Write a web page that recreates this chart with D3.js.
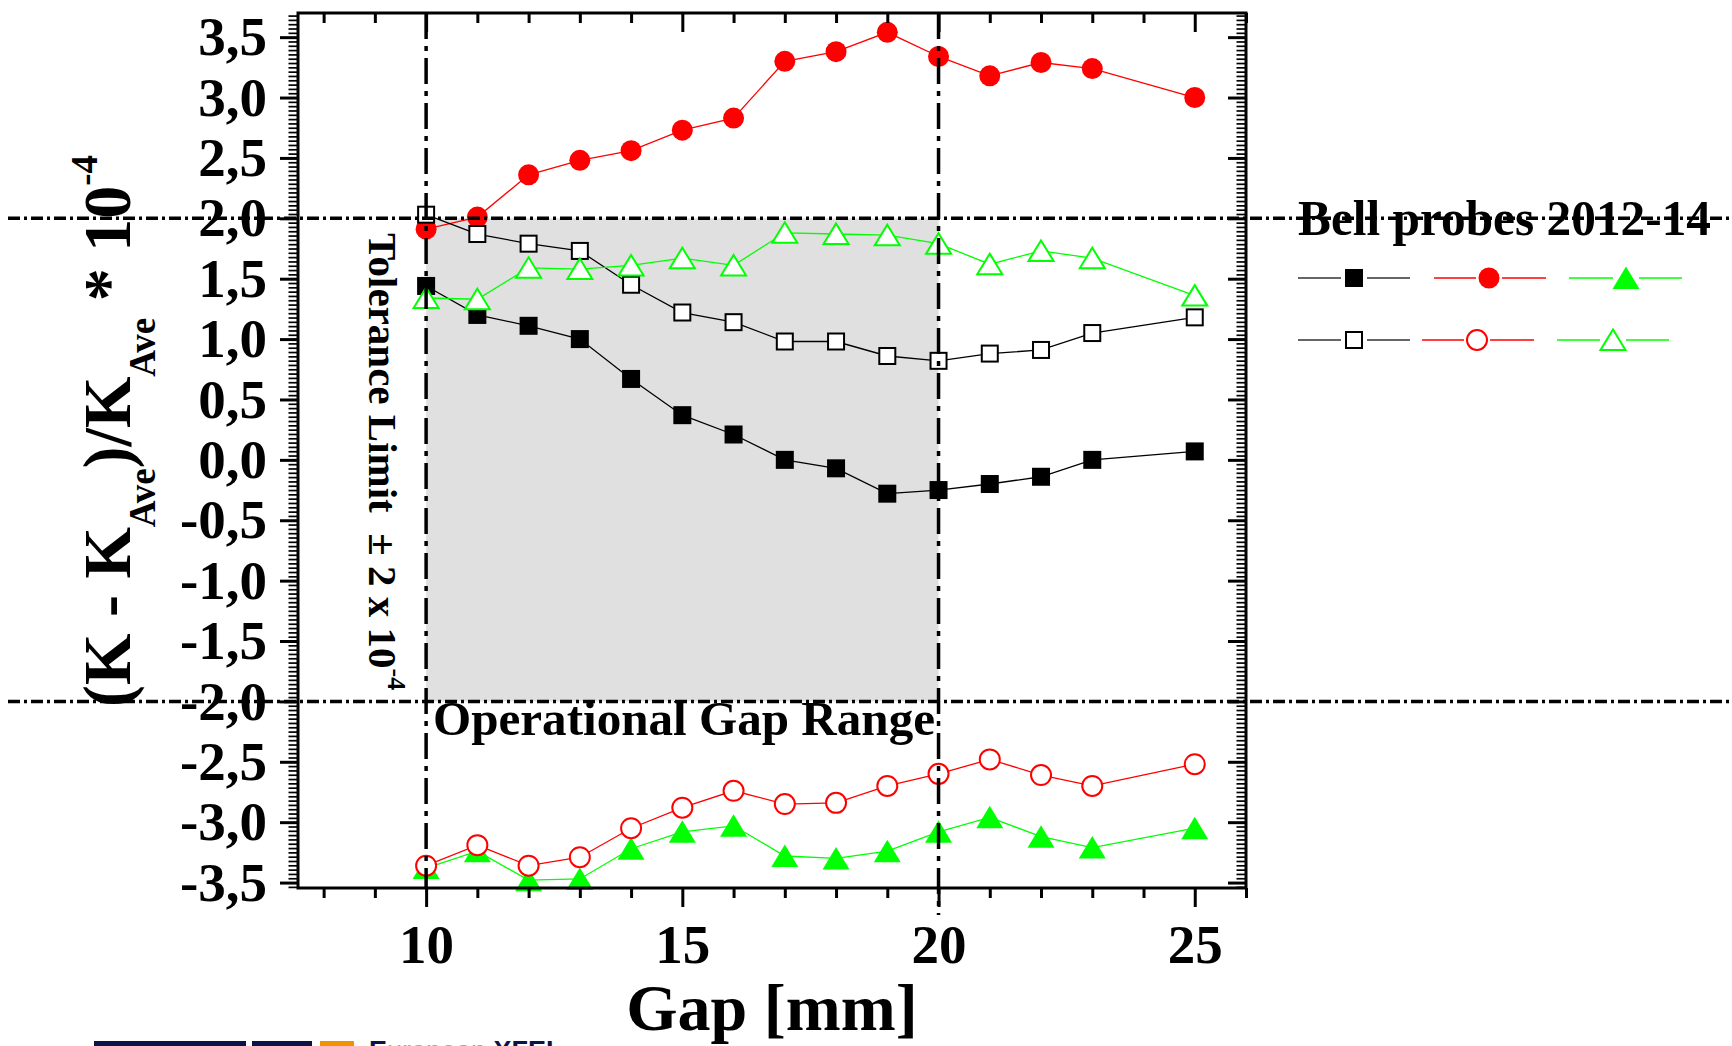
<!DOCTYPE html>
<html><head><meta charset="utf-8">
<script src="https://cdn.jsdelivr.net/npm/d3@7"></script>
<style>
body{margin:0;background:#fff}
svg{display:block}
text{font-family:"Liberation Serif","Times New Roman",serif;font-weight:bold;white-space:pre}
</style>
</head><body>
<svg id="c" width="1732" height="1046"></svg>
<script>
// ---- data ----
const gap = [10,11,12,13,14,15,16,17,18,19,20,21,22,23,25];
const blackFilled = [1.44,1.20,1.11,1.00,0.67,0.37,0.21,0.00,-0.07,-0.28,-0.25,-0.20,-0.14,0.00,0.07];
const redFilled   = [1.91,2.01,2.36,2.48,2.56,2.73,2.83,3.30,3.38,3.54,3.34,3.18,3.29,3.24,3.00];
const greenFilled = [-3.38,-3.24,-3.48,-3.47,-3.22,-3.08,-3.03,-3.28,-3.30,-3.24,-3.08,-2.96,-3.12,-3.21,-3.05];
const blackOpen   = [2.03,1.87,1.79,1.73,1.45,1.22,1.14,0.98,0.98,0.86,0.82,0.88,0.91,1.05,1.18];
const redOpen     = [-3.36,-3.19,-3.36,-3.29,-3.05,-2.88,-2.74,-2.85,-2.84,-2.70,-2.60,-2.48,-2.61,-2.70,-2.52];
const greenOpen   = [1.34,1.33,1.59,1.58,1.61,1.67,1.61,1.88,1.87,1.86,1.79,1.62,1.73,1.67,1.36];

const yTickValues = [-3.5,-3,-2.5,-2,-1.5,-1,-0.5,0,0.5,1,1.5,2,2.5,3,3.5];
const yTickLabels = ["-3,5","-3,0","-2,5","-2,0","-1,5","-1,0","-0,5","0,0","0,5","1,0","1,5","2,0","2,5","3,0","3,5"];
const xTickValues = [10,15,20,25];
const xTickLabels = ["10","15","20","25"];
const xMinorValues = [8,9,11,12,13,14,16,17,18,19,21,22,23,24,26];
const toleranceLimits = [-2, 2];
const operationalGap = [10, 20];

const yTitleParts = ["(K - K","Ave",")/K","Ave"," * 10","-4"];
const xTitle = "Gap [mm]";
const legendTitle = "Bell probes 2012-14";

// ---- layout ----
const svg = d3.select("#c");
const L=298, R=1246, T=13, B=888;
const x = d3.scaleLinear().domain([7.5,26]).range([L,R]);
const y = d3.scaleLinear().domain([-3.545,3.70]).range([B,T]);

// shaded operational range
svg.append("rect")
  .attr("x", x(operationalGap[0])).attr("y", y(toleranceLimits[1]))
  .attr("width", x(operationalGap[1]) - x(operationalGap[0]))
  .attr("height", y(toleranceLimits[0]) - y(toleranceLimits[1]))
  .attr("fill", "#e0e0e0");

// texts inside plot
svg.append("text").attr("x", 433).attr("y", 735).attr("font-size", 49)
  .attr("textLength", 502).attr("lengthAdjust","spacingAndGlyphs")
  .text("Operational Gap Range");

const tol = svg.append("text").attr("transform","translate(369,233) rotate(90)").attr("font-size",41);
tol.append("tspan").text("Tolerance Limit  \u00b1 2 x 10");
tol.append("tspan").attr("font-size",26).attr("dy",-19).text("-4");

// ---- series ----
const series = [
  {v: blackFilled, color:"#000", shape:"square", filled:true},
  {v: redFilled, color:"#ff0000", shape:"circle", filled:true},
  {v: greenFilled, color:"#00ff00", shape:"triangle", filled:true},
  {v: blackOpen, color:"#000", shape:"square", filled:false},
  {v: redOpen, color:"#ff0000", shape:"circle", filled:false},
  {v: greenOpen, color:"#00ff00", shape:"triangle", filled:false},
];

function drawMarker(g, shape, filled, color) {
  if (shape === "square") {
    if (filled) g.append("rect").attr("x",-9).attr("y",-9).attr("width",18).attr("height",18).attr("fill",color);
    else g.append("rect").attr("x",-8).attr("y",-8).attr("width",16).attr("height",16).attr("fill","#fff").attr("stroke",color).attr("stroke-width",2);
  } else if (shape === "circle") {
    if (filled) g.append("circle").attr("r",10.5).attr("fill",color);
    else g.append("circle").attr("r",10).attr("fill","#fff").attr("stroke",color).attr("stroke-width",2);
  } else {
    if (filled) g.append("path").attr("d","M0,-11.5L13.5,11L-13.5,11Z").attr("fill",color);
    else g.append("path").attr("d","M0,-10.5L12.5,10L-12.5,10Z").attr("fill","#fff").attr("stroke",color).attr("stroke-width",2);
  }
}

const line = d3.line().x(d=>x(d[0])).y(d=>y(d[1]));
series.forEach(s => {
  const pts = gap.map((g,i)=>[g, s.v[i]]);
  svg.append("path").datum(pts).attr("d", line).attr("fill","none")
    .attr("stroke", s.color).attr("stroke-width", 1.3);
  pts.forEach(p => {
    const g = svg.append("g").attr("transform", `translate(${x(p[0])},${y(p[1])})`);
    drawMarker(g, s.shape, s.filled, s.color);
  });
});

// ---- axes ----
const yMinor = [];
yTickValues.concat([4]).forEach((v,i,arr)=>{
  if (i === 0) { for (let k=1;k<14;k++){ const m = v - k*0.5/14; if (m > -3.545) yMinor.push(m);} }
  if (i < arr.length-1) for (let k=1;k<14;k++){ const m = v + k*0.5/14; if (m < 3.70) yMinor.push(m);} 
});

function styleAxis(g, sw) {
  g.select(".domain").remove();
  g.selectAll(".tick line").attr("stroke","#000").attr("stroke-width", sw);
}
const fmtY = d => yTickLabels[yTickValues.indexOf(d)];
const fmtX = d => xTickLabels[xTickValues.indexOf(d)];

// left
svg.append("g").attr("transform",`translate(${L},0)`)
  .call(d3.axisLeft(y).tickValues(yMinor).tickSize(9.5).tickFormat(""))
  .call(g=>styleAxis(g,1.7));
svg.append("g").attr("transform",`translate(${L},0)`)
  .call(d3.axisLeft(y).tickValues(yTickValues).tickSize(18).tickPadding(13).tickFormat(fmtY))
  .call(g=>styleAxis(g,3))
  .call(g=>g.attr("font-size",55).attr("font-family",null).selectAll("text").attr("fill","#000"));
// right
svg.append("g").attr("transform",`translate(${R},0)`)
  .call(d3.axisRight(y).tickValues(yMinor).tickSize(-9.5).tickFormat(""))
  .call(g=>styleAxis(g,1.7));
svg.append("g").attr("transform",`translate(${R},0)`)
  .call(d3.axisRight(y).tickValues(yTickValues).tickSize(-18).tickFormat(""))
  .call(g=>styleAxis(g,3));
// top
svg.append("g").attr("transform",`translate(0,${T})`)
  .call(d3.axisTop(x).tickValues(xMinorValues).tickSize(-10).tickFormat(""))
  .call(g=>styleAxis(g,3));
svg.append("g").attr("transform",`translate(0,${T})`)
  .call(d3.axisTop(x).tickValues(xTickValues).tickSize(-19).tickFormat(""))
  .call(g=>styleAxis(g,3));
// bottom
svg.append("g").attr("transform",`translate(0,${B})`)
  .call(d3.axisBottom(x).tickValues(xMinorValues).tickSize(10).tickFormat(""))
  .call(g=>styleAxis(g,3));
svg.append("g").attr("transform",`translate(0,${B})`)
  .call(d3.axisBottom(x).tickValues(xTickValues).tickSize(19).tickPadding(17).tickFormat(fmtX))
  .call(g=>styleAxis(g,3))
  .call(g=>g.attr("font-size",55).attr("font-family",null).selectAll("text").attr("fill","#000"));

// frame
svg.append("rect").attr("x",L).attr("y",T).attr("width",R-L).attr("height",B-T)
  .attr("fill","none").attr("stroke","#000").attr("stroke-width",3);

// axis titles
svg.append("text").attr("x",(L+R)/2).attr("y",1030).attr("text-anchor","middle")
  .attr("font-size",66).text(xTitle);

const yt = svg.append("text").attr("transform","translate(130,431) rotate(-90)")
  .attr("text-anchor","middle").attr("font-size",68)
  .attr("textLength",552).attr("lengthAdjust","spacingAndGlyphs");
yt.append("tspan").text(yTitleParts[0]);
yt.append("tspan").attr("font-size",38).attr("dy",25).text(yTitleParts[1]);
yt.append("tspan").attr("dy",-25).text(yTitleParts[2]);
yt.append("tspan").attr("font-size",38).attr("dy",25).text(yTitleParts[3]);
yt.append("tspan").attr("dy",-25).text(yTitleParts[4]);
yt.append("tspan").attr("font-size",38).attr("dy",-33).text(yTitleParts[5]);

// ---- legend ----
svg.append("text").attr("x",1298).attr("y",235).attr("font-size",50)
  .attr("textLength",413).attr("lengthAdjust","spacingAndGlyphs").text(legendTitle);
const legendItems = [
  {s:series[0], x1:1298, x2:1410, mx:1354, y:278},
  {s:series[1], x1:1434, x2:1546, mx:1489, y:278},
  {s:series[2], x1:1569, x2:1682, mx:1626, y:278},
  {s:series[3], x1:1298, x2:1410, mx:1354, y:340},
  {s:series[4], x1:1422, x2:1534, mx:1477, y:340},
  {s:series[5], x1:1557, x2:1669, mx:1613, y:340},
];
legendItems.forEach(it=>{
  const c = it.s.color === "#000" ? "#333" : it.s.color;
  svg.append("line").attr("x1",it.x1).attr("x2",it.mx-13).attr("y1",it.y).attr("y2",it.y).attr("stroke",c).attr("stroke-width",1.5);
  svg.append("line").attr("x1",it.mx+13).attr("x2",it.x2).attr("y1",it.y).attr("y2",it.y).attr("stroke",c).attr("stroke-width",1.5);
  const g = svg.append("g").attr("transform",`translate(${it.mx},${it.y})`);
  drawMarker(g, it.s.shape, it.s.filled, it.s.color);
});

// ---- dash-dot reference lines (on top) ----
toleranceLimits.forEach(v=>{
  svg.append("line").attr("x1",8).attr("x2",1732).attr("y1",y(v)).attr("y2",y(v))
    .attr("stroke","#000").attr("stroke-width",3.5).attr("stroke-dasharray","12,4,3,4");
});
operationalGap.forEach((v,i)=>{
  svg.append("line").attr("x1",x(v)).attr("x2",x(v)).attr("y1",T).attr("y2",i===1?915:B)
    .attr("stroke","#000").attr("stroke-width",3.5).attr("stroke-dasharray","26,7,5,7");
});

// ---- logo strip at bottom ----
svg.append("rect").attr("x",94).attr("y",1041).attr("width",152).attr("height",6).attr("fill","#0c1445");
svg.append("rect").attr("x",252).attr("y",1041).attr("width",60).attr("height",6).attr("fill","#0c1445");
svg.append("rect").attr("x",320).attr("y",1041).attr("width",34).attr("height",6).attr("fill","#f39200");
const logo = svg.append("text").attr("x",369).attr("y",1060).attr("font-size",27)
  .style("font-family","'Liberation Sans',Arial,sans-serif");
logo.append("tspan").attr("fill","#0c1445").text("E");
logo.append("tspan").attr("fill","#9aa3c0").attr("font-weight","normal").text("uropean ");
logo.append("tspan").attr("fill","#0c1445").text("XFEL");
</script>
</body></html>
